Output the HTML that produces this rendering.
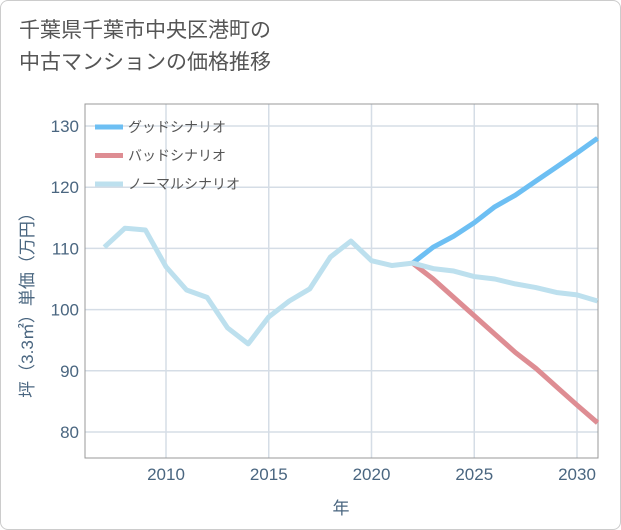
<!DOCTYPE html>
<html><head><meta charset="utf-8">
<style>
body{margin:0;background:#fff;font-family:"Liberation Sans","Noto Sans CJK JP",sans-serif;}
#wrap{position:relative;width:619px;height:528px;border:1px solid #ccc;border-radius:8px;overflow:hidden;background:#fff}
#title{position:absolute;left:18px;top:14px;font-size:21px;line-height:32px;color:#555}
</style></head><body>
<div id="wrap">
<div id="title">千葉県千葉市中央区港町の<br>中古マンションの価格推移</div>
<svg id="chart" width="621" height="530" style="position:absolute;left:0;top:0"></svg>
</div>
<script>
const years=[2007,2008,2009,2010,2011,2012,2013,2014,2015,2016,2017,2018,2019,2020,2021,2022,2023,2024,2025,2026,2027,2028,2029,2030,2031];
const normalVals=[110.2,113.3,113,107,103.2,102,97,94.4,98.8,101.4,103.4,108.6,111.2,108,107.2,107.6,106.7,106.3,105.4,105,104.2,103.6,102.8,102.4,101.4];
const scenYears=[2022,2023,2024,2025,2026,2027,2028,2029,2030,2031];
const goodVals=[107.6,110.2,112,114.2,116.8,118.7,121,123.3,125.6,128];
const badVals=[107.6,105,102,99,96,93,90.4,87.4,84.4,81.5];
const yTicks=[80,90,100,110,120,130];
const xTicks=[2010,2015,2020,2025,2030];
const L=84,R=597,T=103,B=457;
const x=v=>165+(v-2010)*20.55;
const y=v=>431-(v-80)*6.12;
const NS="http://www.w3.org/2000/svg";
const svg=document.getElementById('chart');
function mk(tag,attrs,parent){const e=document.createElementNS(NS,tag);for(const k in attrs)e.setAttribute(k,attrs[k]);(parent||svg).appendChild(e);return e;}
const grid=mk('g',{});


yTicks.forEach(t=>{
  const l=mk('line',{x1:L,x2:R,y1:y(t),y2:y(t),stroke:'#d5dde6','stroke-width':1.5},grid);
  
  
  const tx=mk('text',{x:L-6,y:y(t)+6,'text-anchor':'end','font-size':17,fill:'#4a6680'});
  tx.textContent=t;
  
  
});
xTicks.forEach(t=>{
  const l=mk('line',{x1:x(t),x2:x(t),y1:T,y2:B,stroke:'#d5dde6','stroke-width':1.5},grid);
  
  
  const tx=mk('text',{x:x(t),y:B+22,'text-anchor':'middle','font-size':17,fill:'#4a6680'});
  tx.textContent=t;
  
  
});
const frame=mk('rect',{x:L,y:T,width:R-L,height:B-T,fill:'none',stroke:'#999','stroke-width':1});


function line(xs,vs,color,name){
  const p=mk('polyline',{points:xs.map((a,i)=>x(a)+','+y(vs[i])).join(' '),fill:'none',stroke:color,'stroke-width':5,'stroke-linejoin':'round'});
  
  
}
line(scenYears,badVals,'#de8d93','bad-scenario-line');
line(scenYears,goodVals,'#6dbff3','good-scenario-line');
line(years,normalVals,'#bde0ee','normal-scenario-line');
const leg=[['グッドシナリオ','#6dbff3'],['バッドシナリオ','#de8d93'],['ノーマルシナリオ','#bde0ee']];
leg.forEach((d,i)=>{
  const yy=126+i*28.5;
  const s=mk('line',{x1:94,x2:122,y1:yy,y2:yy,stroke:d[1],'stroke-width':5});
  
  
  const t=mk('text',{x:127,y:yy+5,'font-size':14,fill:'#555'});
  t.textContent=d[0];
  
  
});
const xt=mk('text',{x:340,y:513,'text-anchor':'middle','font-size':17,fill:'#4a6680'});
xt.textContent='年';


const yt=mk('text',{x:0,y:0,'text-anchor':'middle','font-size':17,fill:'#4a6680',transform:'translate(32,300) rotate(-90)'});
yt.textContent='坪（3.3㎡）単価（万円）';


</script>
</body></html>
